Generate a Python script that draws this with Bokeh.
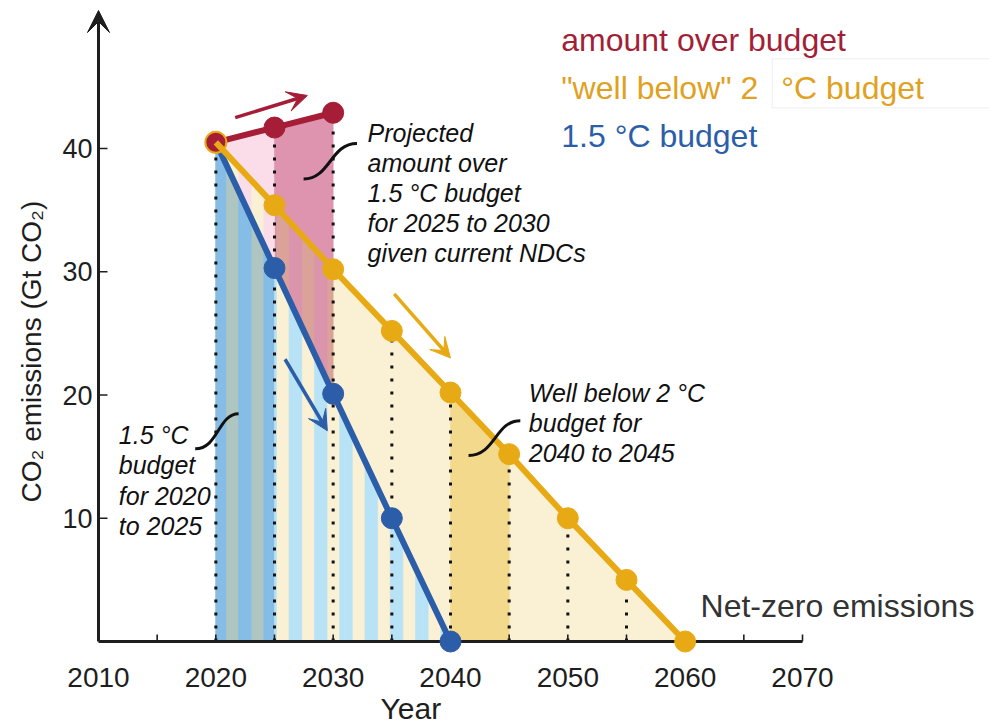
import numpy as np
from bokeh.plotting import figure
from bokeh.models import Range1d, FixedTicker, Arrow, VeeHead, BoxAnnotation, Title
from bokeh.core.properties import value
from bokeh.embed import file_html
from bokeh.resources import INLINE

# ------------------------------------------------------------------ data
years_over = [2020, 2025, 2030]
emissions_over = [40.5, 41.7, 42.9]          # amount over budget (current NDCs)

years_wb2 = [2020, 2025, 2030, 2035, 2040, 2045, 2050, 2055, 2060]
emissions_wb2 = [40.5, 35.4, 30.2, 25.2, 20.2, 15.2, 10.0, 5.0, 0.0]   # "well below" 2 °C

years_15 = [2020, 2025, 2030, 2035, 2040]
emissions_15 = [40.5, 30.3, 20.1, 10.0, 0.0]  # 1.5 °C

guide_years = [2020, 2025, 2030, 2035, 2040, 2045, 2050, 2055]
x_label_years = [2010, 2020, 2030, 2040, 2050, 2060, 2070]
x_tick_labels = ["2010", "2020", "2030", "2040", "2050", "2060", "2070"]
x_tick_years = [2015, 2020, 2025, 2030, 2035, 2040, 2045, 2050, 2055, 2060, 2065, 2070]
y_ticks = [10, 20, 30, 40]
y_tick_labels = ["10", "20", "30", "40"]

legend_texts = ["amount over budget", "\"well below\" 2", "°C budget", "1.5 °C budget"]
note_ndc = ["Projected", "amount over", "1.5 °C budget", "for 2025 to 2030", "given current NDCs"]
note_15 = ["1.5 °C", "budget", "for 2020", "to 2025"]
note_wb2 = ["Well below 2 °C", "budget for", "2040 to 2045"]

# ------------------------------------------------------------------ style
RED = "#A51D36"
ORANGE = "#E8AA14"
BLUE = "#2B5DA8"
RED_T = "#A31F37"
ORANGE_T = "#E0A11F"
BLUE_T = "#2C5EA8"
CREAM = "#FAF0D3"
YEL2 = "#F2D98C"
LBLUE = "#B8E2F6"
MBLUE = "#85BDE6"
GRAYT = "#AEC5C2"
PINK_L = "#FADDE9"
PINK_D = "#DE93AE"
PINK_D2 = "#DA95AC"
SALMON = "#DBA29A"
AX = "#1E1E1E"
FONT = value("Liberation Sans")

# ------------------------------------------------------------------ geometry
W, H = 989, 727
BL, BB = 84, 74
AXIS_PX = 98                      # page x of the year-2010 axis line
PX_YR = 704 / 60.0
PX_UNIT = 493 / 40.0
frame_w = W - BL
frame_h = H - BB
x0 = 2010 - (AXIS_PX - BL) / PX_YR
x1 = x0 + frame_w / PX_YR
y1 = 641 / PX_UNIT
y0 = y1 - frame_h / PX_UNIT


def yv(py):
    return (641 - py) / PX_UNIT


p = figure(width=W, height=H, output_backend="svg", toolbar_location=None,
           x_range=Range1d(x0, x1), y_range=Range1d(y0, y1),
           min_border_left=BL, min_border_right=0, min_border_top=0, min_border_bottom=BB)
p.outline_line_color = None
p.grid.visible = False
p.background_fill_color = "white"
p.border_fill_color = "white"

zero = ([2000, 2100], [0.0, 0.0])
s15 = (years_15, emissions_15)
swb = (years_wb2, emissions_wb2)
sov = (years_over, emissions_over)


def band(a, b, lo, hi):
    pts = sorted(set([a, b] + [v for v in list(lo[0]) + list(hi[0]) if a < v < b]))
    top = [float(np.interp(x, hi[0], hi[1])) for x in pts]
    bot = [float(np.interp(x, lo[0], lo[1])) for x in pts]
    return pts + pts[::-1], top + bot[::-1]


def fill(pieces, color):
    xs = [q[0] for q in pieces]
    ys = [q[1] for q in pieces]
    p.patches(xs=xs, ys=ys, fill_color=color, line_color=color, line_width=0.6)


# alternating stripes used in the budget areas
SW = 1.0775
S0 = 2019.78
stripes = []
k = 0
while S0 + k * SW < 2040:
    stripes.append((S0 + k * SW, S0 + (k + 1) * SW, k % 2 == 0))
    k += 1


def stripe_pieces(za, zb, lo, hi):
    out = []
    for a, b, is_lb in stripes:
        if not is_lb:
            continue
        a2, b2 = max(a, za), min(b, zb)
        if b2 > a2:
            out.append(band(a2, b2, lo, hi))
    return out


fill([band(2020, 2060, zero, swb)], CREAM)
fill([band(2040, 2045, zero, swb)], YEL2)
fill([band(2020, 2025, swb, sov)], PINK_L)
fill([band(2025, 2030, swb, sov)], PINK_D)
fill([band(2025, 2030, s15, swb)], SALMON)
fill(stripe_pieces(2025, 2030, s15, swb), PINK_D2)
fill(stripe_pieces(2020, 2025, s15, swb), PINK_L)
fill([band(2020, 2025, zero, s15)], GRAYT)
fill(stripe_pieces(2020, 2025, zero, s15), MBLUE)
fill(stripe_pieces(2025, 2040, zero, s15), LBLUE)

# dotted guides
tops = []
for yr in guide_years:
    t = float(np.interp(yr, years_wb2, emissions_wb2))
    if yr <= years_over[-1]:
        t = max(t, float(np.interp(yr, years_over, emissions_over)))
    tops.append(t)
p.segment(x0=guide_years, y0=[0] * len(guide_years), x1=guide_years, y1=tops,
          line_color="#111111", line_width=3, line_dash="3 10", line_cap="butt")

# axis lines (drawn at data zero / year 2010) with inward ticks
p.segment(x0=[2010], y0=[0], x1=[x_label_years[-1]], y1=[0], line_color=AX, line_width=3)
p.segment(x0=x_tick_years, y0=[0] * len(x_tick_years), x1=x_tick_years,
          y1=[7 / PX_UNIT] * len(x_tick_years), line_color=AX, line_width=1.6)
p.segment(x0=[2010] * len(y_ticks), y0=y_ticks, x1=[2010 + 9 / PX_YR] * len(y_ticks),
          y1=y_ticks, line_color=AX, line_width=1.6)
p.add_layout(Arrow(x_start=2010, y_start=0, x_end=2010, y_end=yv(10),
                   line_color=AX, line_width=3,
                   end=VeeHead(size=22, fill_color=AX, line_color=AX, line_width=1)))

# series lines and points
p.line(years_over, emissions_over, line_color=RED, line_width=6, line_join="round")
p.line(years_15, emissions_15, line_color=BLUE, line_width=6, line_join="round")
p.scatter(years_15[1:], emissions_15[1:], size=21, fill_color=BLUE, line_color=BLUE)
p.scatter(years_over[1:], emissions_over[1:], size=21, fill_color=RED, line_color=RED)
p.scatter(years_over[:1], emissions_over[:1], size=21, fill_color=RED, line_color=ORANGE,
          line_width=2)
p.line(years_wb2, emissions_wb2, line_color=ORANGE, line_width=6, line_join="round")
p.scatter(years_wb2[1:], emissions_wb2[1:], size=21, fill_color=ORANGE, line_color=ORANGE)

# trend arrows
for (xa, ya, xb, yb, c) in [(2021.65, 42.5, 2027.8, 44.3, RED),
                            (2035.2, 28.2, 2040.0, 23.0, ORANGE),
                            (2025.9, 22.9, 2029.5, 17.1, BLUE)]:
    p.add_layout(Arrow(x_start=xa, y_start=ya, x_end=xb, y_end=yb, line_color=c,
                       line_width=3.5,
                       end=VeeHead(size=20, fill_color=c, line_color=c, line_width=1)))

# connectors
p.bezier(x0=[2032.03, 2018.24, 2045.95], y0=[40.41, 15.63, 17.92],
         x1=[2027.48, 2021.94, 2041.54], y1=[37.53, 18.47, 15.09],
         cx0=[2029.75, 2020.2, 2043.82], cy0=[40.41, 15.63, 17.92],
         cx1=[2029.75, 2020.2, 2043.82], cy1=[37.53, 18.47, 15.09],
         line_color="#111111", line_width=3)


def note(lines, x, py_base, step_px, size=25, color="#111111", style="italic"):
    # py_base: baseline of the first line in page pixels
    lift = 0.3 * size
    p.text(x=[x] * len(lines),
           y=[yv(py_base - lift + i * step_px) for i in range(len(lines))], text=lines,
           text_font=FONT, text_font_size=f"{size}px", text_font_style=style,
           text_color=color, text_baseline="alphabetic", text_align="left")


note(note_ndc, 2032.93, 140, 30)
note(note_15, 2011.73, 441.7, 30.5)
note(note_wb2, 2046.67, 400, 30)

# legend-like labels
p.add_layout(BoxAnnotation(left=2067.42, right=2100, top=yv(58.3), bottom=yv(107.3),
                           fill_color=None, line_color="#C8C8C8", line_width=1))
note([legend_texts[0]], 2049.44, 49.3, 0, size=32, color=RED_T, style="normal")
note([legend_texts[1]], 2049.44, 97.3, 0, size=32, color=ORANGE_T, style="normal")
note([legend_texts[2]], 2068.19, 97.3, 0, size=32, color=ORANGE_T, style="normal")
note([legend_texts[3]], 2049.44, 145, 0, size=32, color=BLUE_T, style="normal")
note(["Net-zero emissions"], 2061.31, 615, 0, size=32, color="#333333", style="normal")

# axes (labels via Bokeh axes; lines and ticks drawn at the data axes)
xa = p.xaxis[0]
xa.ticker = FixedTicker(ticks=x_label_years, minor_ticks=[])
xa.major_label_overrides = {t: lab for t, lab in zip(x_label_years, x_tick_labels)}
xa.axis_line_color = None
xa.major_tick_in = 0
xa.major_tick_out = 0
xa.minor_tick_in = 0
xa.minor_tick_out = 0
xa.major_label_standoff = 14
xa.major_label_text_font = "Liberation Sans"
xa.major_label_text_font_size = "28px"
xa.major_label_text_color = AX

ya = p.yaxis[0]
ya.ticker = FixedTicker(ticks=y_ticks, minor_ticks=[])
ya.major_label_overrides = {t: lab for t, lab in zip(y_ticks, y_tick_labels)}
ya.axis_line_color = None
ya.major_tick_in = 0
ya.major_tick_out = 0
ya.minor_tick_in = 0
ya.minor_tick_out = 0
ya.major_label_standoff = BL - 92
ya.major_label_text_font = "Liberation Sans"
ya.major_label_text_font_size = "27px"
ya.major_label_text_color = AX

p.add_layout(Title(text="CO₂ emissions (Gt CO₂)", align="left", offset=151,
                   text_font="Liberation Sans", text_font_size="28px",
                   text_font_style="normal", text_color=AX, standoff=26), "left")
p.add_layout(Title(text="Year", align="left", offset=380 - BL,
                   text_font="Liberation Sans", text_font_size="30px",
                   text_font_style="normal", text_color=AX, standoff=0), "below")

open("out.html", "w").write(file_html(p, INLINE))
